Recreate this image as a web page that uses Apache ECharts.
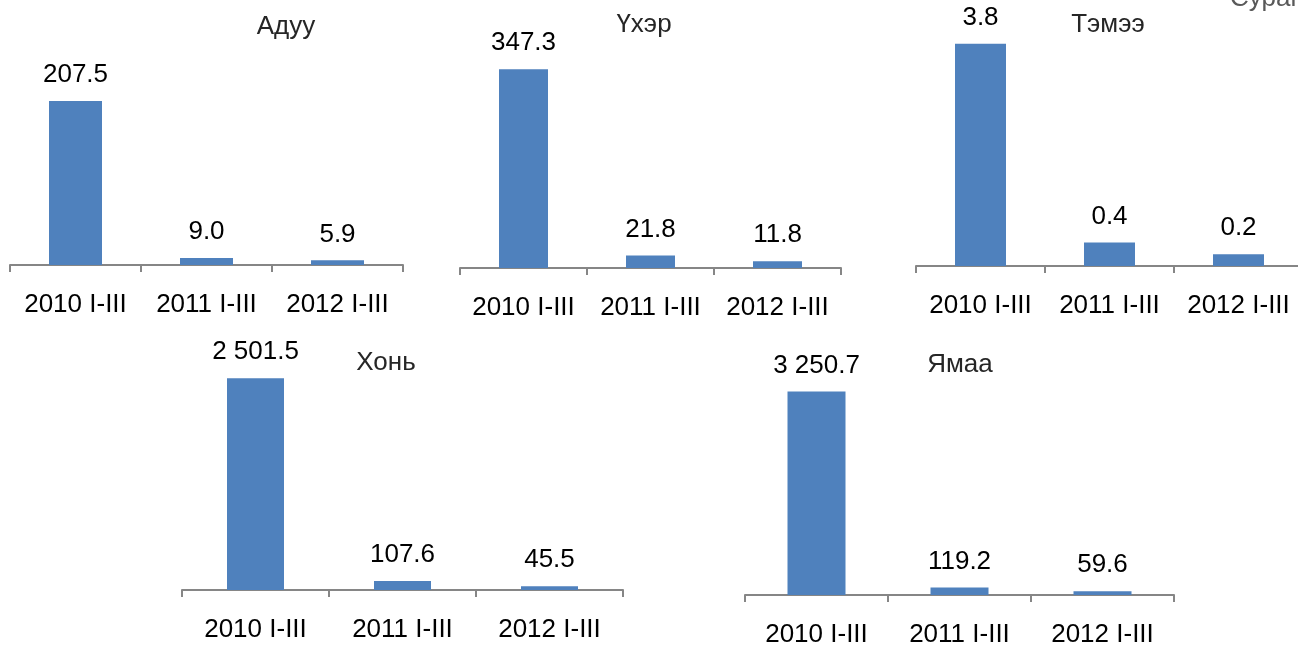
<!DOCTYPE html>
<html>
<head>
<meta charset="utf-8">
<script src="https://cdn.jsdelivr.net/npm/echarts@6/dist/echarts.min.js"></script>
<style>
  html, body { margin: 0; padding: 0; background: #fff; }
  #chart { width: 1298px; height: 646px; }
</style>
</head>
<body>
<div id="chart"></div>
<script>
// Livestock losses by species, first quarter of each year (thousand head)
const categories = ['2010 I-III', '2011 I-III', '2012 I-III'];
const titles = ['Адуу', 'Үхэр', 'Тэмээ', 'Хонь', 'Ямаа'];
const aduu = [207.5, 9.0, 5.9];
const ukher = [347.3, 21.8, 11.8];
const temee = [3.8, 0.4, 0.2];
const khoni = [2501.5, 107.6, 45.5];
const yamaa = [3250.7, 119.2, 59.6];
const cornerNote = 'Сураг';

const seriesData = [aduu, ukher, temee, khoni, yamaa];

// panel layout: plot rectangle, value-axis maximum, bar width, title centre
const panels = [
  { left: 10,  width: 393, top: 28,  height: 237, max: 300,  barWidth: 53, tx: 286,  ty: 14 },
  { left: 460, width: 381, top: 39,  height: 229, max: 400,  barWidth: 49, tx: 644,  ty: 12 },
  { left: 916, width: 387, top: 32,  height: 234, max: 4,    barWidth: 51, tx: 1108, ty: 12 },
  { left: 182, width: 441, top: 336, height: 254, max: 3000, barWidth: 57, tx: 386,  ty: 350 },
  { left: 745, width: 429, top: 376, height: 219, max: 3500, barWidth: 58, tx: 960,  ty: 352 }
];

const FONT = "'Liberation Sans', Arial, sans-serif";
const AXIS_GRAY = '#868686';

function fmt(v) {
  const s = v.toFixed(1);
  const parts = s.split('.');
  parts[0] = parts[0].replace(/\B(?=(\d{3})+(?!\d))/g, ' ');
  return parts.join('.');
}

const grid = [], xAxis = [], yAxis = [], series = [], title = [];
panels.forEach((p, i) => {
  grid.push({ left: p.left, width: p.width, top: p.top, height: p.height,
              containLabel: false, outerBoundsMode: 'none' });
  xAxis.push({
    type: 'category', gridIndex: i, data: categories,
    axisLine: { show: true, lineStyle: { color: AXIS_GRAY, width: 2 } },
    axisTick: { show: true, length: 7, lineStyle: { color: AXIS_GRAY, width: 2 } },
    axisLabel: { color: '#000', fontSize: 26, fontFamily: FONT, margin: 27, interval: 0 },
    splitLine: { show: false }
  });
  yAxis.push({ type: 'value', gridIndex: i, min: 0, max: p.max, show: false,
               splitLine: { show: false } });
  series.push({
    type: 'bar', xAxisIndex: i, yAxisIndex: i, data: seriesData[i],
    barWidth: p.barWidth,
    itemStyle: { color: '#4F81BD' },
    label: {
      show: true, position: 'top', distance: 13,
      color: '#000', fontSize: 26, fontFamily: FONT,
      formatter: (d) => fmt(d.value)
    },
    animation: false
  });
  title.push({
    text: titles[i], left: p.tx, top: p.ty, textAlign: 'center', padding: 0,
    textStyle: { color: '#262626', fontSize: 26, fontWeight: 'normal', fontFamily: FONT }
  });
});

const chart = echarts.init(document.getElementById('chart'), null, { renderer: 'canvas' });
chart.setOption({
  backgroundColor: '#ffffff',
  animation: false,
  title, grid, xAxis, yAxis, series,
  graphic: [{
    type: 'text', left: 1230, top: -14,
    style: { text: cornerNote, fill: '#595959', font: '26px ' + FONT }
  }]
});
</script>
</body>
</html>
